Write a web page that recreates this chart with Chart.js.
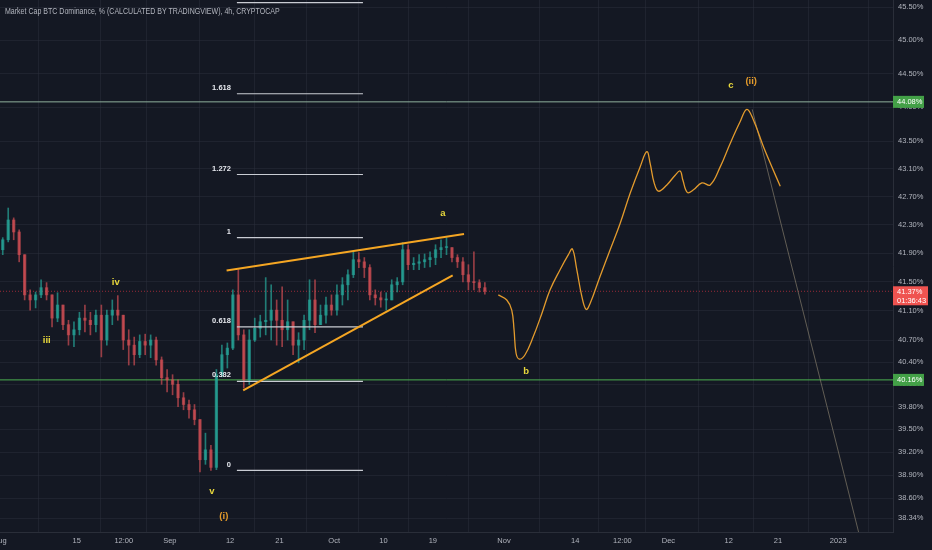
<!DOCTYPE html>
<html>
<head>
<meta charset="utf-8">
<script src="https://cdn.jsdelivr.net/npm/chart.js@4.4.0/dist/chart.umd.min.js"></script>
<style>
    html, body { margin: 0; padding: 0; background: #141823; }
    #wrap { width: 932px; height: 550px; }
</style>
</head>
<body>
<div id="wrap"><canvas id="chart" width="932" height="550"></canvas></div>
<script>
// x values are days counted from 1 Aug 2022
const xTickDays = [0, 14, 22.6, 31, 42, 51, 61, 70, 79, 92, 105, 113.6, 122, 133, 142, 153];
const xTickLabels = ['Aug', '15', '12:00', 'Sep', '12', '21', 'Oct', '10', '19', 'Nov', '14', '12:00', 'Dec', '12', '21', '2023'];
const yTicks = [45.5, 45.0, 44.5, 44.0, 43.5, 43.1, 42.7, 42.3, 41.9, 41.5, 41.1, 40.7, 40.4, 40.1, 39.8, 39.5, 39.2, 38.9, 38.6, 38.34];

// daily candles, 1 Aug -> 28 Oct
const firstDay = 0;
const opens = [
    41.95, 42.09, 42.37, 42.20, 41.88, 41.32, 41.25, 41.32, 41.42, 41.32,
    41.00, 41.18, 40.91, 40.77, 40.84, 41.00, 40.97, 40.91, 41.04, 40.70,
    41.04, 41.11, 41.04, 40.70, 40.63, 40.50, 40.68, 40.63, 40.70, 40.43,
    40.19, 40.16, 40.10, 39.92, 39.83, 39.76, 39.63, 39.10, 39.23, 39.00,
    40.23, 40.50, 40.59, 41.32, 40.77, 40.16, 40.70, 40.86, 40.95, 40.97,
    41.11, 40.97, 40.84, 40.95, 40.63, 40.70, 40.97, 41.25, 40.91, 41.04,
    41.18, 41.11, 41.32, 41.46, 41.60, 41.81, 41.78, 41.70, 41.32, 41.28,
    41.25, 41.25, 41.46, 41.50, 41.95, 41.74, 41.76, 41.78, 41.81, 41.84,
    41.95, 41.98, 41.98, 41.84, 41.78, 41.60, 41.50, 41.49, 41.42
];
const highs = [
    42.12, 42.54, 42.40, 42.23, 41.88, 41.39, 41.36, 41.53, 41.49, 41.32,
    41.35, 41.18, 40.97, 40.95, 41.08, 41.18, 41.08, 41.11, 41.18, 41.11,
    41.25, 41.31, 41.04, 40.84, 40.74, 40.77, 40.78, 40.77, 40.74, 40.47,
    40.30, 40.23, 40.16, 39.99, 39.89, 39.83, 39.63, 39.45, 39.29, 40.30,
    40.63, 40.66, 41.39, 41.67, 40.84, 40.84, 41.00, 41.04, 41.56, 41.46,
    41.25, 41.43, 41.25, 40.95, 40.80, 41.04, 41.53, 41.53, 41.18, 41.29,
    41.32, 41.46, 41.56, 41.67, 41.92, 41.91, 41.84, 41.74, 41.39, 41.36,
    41.35, 41.53, 41.56, 42.05, 42.02, 41.84, 41.88, 41.89, 41.92, 42.02,
    42.09, 42.12, 41.98, 41.88, 41.84, 41.74, 41.92, 41.53, 41.49
];
const lows = [
    41.88, 42.06, 42.09, 41.78, 41.25, 41.11, 41.14, 41.28, 41.25, 40.88,
    40.95, 40.84, 40.63, 40.61, 40.77, 40.81, 40.77, 40.81, 40.47, 40.63,
    40.91, 40.97, 40.57, 40.36, 40.36, 40.46, 40.50, 40.46, 40.36, 40.10,
    40.00, 39.96, 39.80, 39.76, 39.65, 39.56, 38.94, 39.04, 38.96, 38.97,
    40.20, 40.32, 40.57, 40.70, 40.05, 40.10, 40.68, 40.74, 40.77, 40.70,
    40.63, 40.61, 40.70, 40.50, 40.39, 40.57, 40.84, 40.80, 40.91, 40.93,
    41.04, 41.04, 41.18, 41.25, 41.56, 41.70, 41.56, 41.25, 41.18, 41.15,
    41.11, 41.25, 41.36, 41.46, 41.67, 41.67, 41.67, 41.70, 41.71, 41.74,
    41.84, 41.88, 41.78, 41.70, 41.50, 41.39, 41.39, 41.36, 41.33
];
const closes = [
    42.09, 42.37, 42.20, 41.88, 41.32, 41.25, 41.32, 41.42, 41.32, 41.00,
    41.18, 40.91, 40.77, 40.84, 41.00, 40.97, 40.91, 41.04, 40.70, 41.04,
    41.11, 41.04, 40.70, 40.63, 40.50, 40.68, 40.63, 40.70, 40.43, 40.19,
    40.16, 40.10, 39.92, 39.83, 39.76, 39.63, 39.10, 39.23, 39.00, 40.23,
    40.50, 40.59, 41.32, 40.77, 40.16, 40.70, 40.86, 40.95, 40.97, 41.11,
    40.97, 40.84, 40.95, 40.63, 40.70, 40.97, 41.25, 40.91, 41.04, 41.18,
    41.11, 41.32, 41.46, 41.60, 41.81, 41.78, 41.70, 41.32, 41.28, 41.25,
    41.25, 41.46, 41.50, 41.95, 41.74, 41.76, 41.78, 41.81, 41.84, 41.95,
    41.98, 41.98, 41.84, 41.78, 41.60, 41.50, 41.49, 41.42, 41.37
];

// projected path (orange curve)
const projDays = [90.96, 92.50, 93.41, 93.83, 94.20, 94.80, 95.84, 97.36, 98.89, 100.41,
    102.23, 103.75, 104.48, 105.28, 106.20, 106.98, 107.71, 109.54, 111.37, 113.19,
    115.02, 116.84, 118.07, 118.67, 119.40, 120.19, 121.72, 123.24, 124.15, 124.64,
    125.48, 126.58, 128.11, 129.63, 131.46, 133.28, 135.11, 136.33, 137.54, 139.37,
    140.90, 142.42];
const projValues = [41.32, 41.25, 41.11, 40.84, 40.52, 40.44, 40.50, 40.75, 41.06, 41.39,
    41.67, 41.88, 41.96, 41.67, 41.30, 41.12, 41.20, 41.58, 41.95, 42.32,
    42.75, 43.13, 43.35, 43.18, 42.90, 42.78, 42.87, 43.01, 43.07, 42.94,
    42.76, 42.80, 42.90, 42.87, 43.13, 43.47, 43.79, 43.97, 43.81, 43.42,
    43.13, 42.85];

// rising wedge trendlines
const wedgeUpperDays = [41.36, 84.70];
const wedgeUpperValues = [41.66, 42.17];
const wedgeLowerDays = [44.39, 82.63];
const wedgeLowerValues = [40.02, 41.59];

// thin line down from the (ii) top
const targetDays = [137.3, 158.0];
const targetValues = [43.97, 37.81];

// fib retracement
const fibLabels = ['0', '0.382', '0.618', '1', '1.272', '1.618', '2'];
const fibValues = [38.96, 40.14, 40.88, 42.12, 43.02, 44.20, 45.57];
const fibStart = 43.24;
const fibEnd = 66.25;

// horizontal levels
const levelValues = [44.08, 40.16];
const lastPrice = 41.37;
const countdown = '01:36:43';

// Elliott wave labels
const waveText = ['iii', 'iv', 'v', '(i)', 'a', 'b', 'c', '(ii)'];
const waveDays = [8.53, 21.14, 38.67, 40.86, 80.86, 96.02, 133.41, 137.12];
const waveValues = [40.69, 41.49, 38.69, 38.37, 42.47, 40.28, 44.32, 44.38];

const TITLE = 'Market Cap BTC Dominance, % (CALCULATED BY TRADINGVIEW), 4h, CRYPTOCAP';

const UP = 'rgba(38,166,154,0.7)';
const DOWN = 'rgba(214,80,86,0.68)';
const GRID = 'rgba(48,52,64,0.4)';
const AXIS_TEXT = '#b2b5be';
const FONT = "'Liberation Sans', Arial, sans-serif";
const YELLOW = '#e8d83c';
const ORANGE = '#e39a2b';

const candleX = closes.map((c, i) => firstDay + i + 0.5);
const candleColor = ctx => closes[ctx.dataIndex] >= opens[ctx.dataIndex] ? UP : DOWN;

const seg = (xs, ys) => xs.map((x, i) => ({ x, y: ys[i] }));
const lineDs = (data, color, width, extra) => Object.assign({
    type: 'line', data, borderColor: color, borderWidth: width,
    pointRadius: 0, fill: false, tension: 0, order: 1
}, extra || {});

const datasets = [
    {
        type: 'bar', label: 'wick',
        data: candleX.map((x, i) => ({ x, y: [lows[i], highs[i]] })),
        backgroundColor: candleColor, barThickness: 1, grouped: false, order: 5
    },
    {
        type: 'bar', label: 'body',
        data: candleX.map((x, i) => ({ x, y: [opens[i], closes[i]] })),
        backgroundColor: candleColor, barThickness: 2.6, minBarLength: 1, grouped: false, order: 4
    },
    lineDs(seg([0, 163], [lastPrice, lastPrice]), 'rgba(242,54,69,0.6)', 1, { borderDash: [1, 2], order: 9 }),
    lineDs(seg([0, 163], [levelValues[0], levelValues[0]]), '#8fb09c', 1, { order: 9 }),
    lineDs(seg([0, 163], [levelValues[1], levelValues[1]]), '#4caf50', 1, { order: 9 }),
    lineDs(seg(wedgeUpperDays, wedgeUpperValues), '#f5a623', 2),
    lineDs(seg(wedgeLowerDays, wedgeLowerValues), '#f5a623', 2),
    lineDs(seg(projDays, projValues), '#e39b2d', 1.3, { tension: 0.4 }),
    lineDs(seg(targetDays, targetValues), 'rgba(150,140,118,0.6)', 1)
];
fibValues.forEach(v => {
    datasets.push(lineDs(seg([fibStart, fibEnd], [v, v]), '#c9ccd3', 1.2, { order: 3 }));
});

const overlay = {
    id: 'overlay',
    afterDatasetsDraw(chart) {
        const { ctx, scales: { x, y } } = chart;
        ctx.save();
        // fib labels
        ctx.font = 'bold 7.5px ' + FONT;
        ctx.fillStyle = '#e6e8ee';
        ctx.textAlign = 'right';
        ctx.textBaseline = 'middle';
        fibLabels.forEach((t, i) => {
            ctx.fillText(t, x.getPixelForValue(fibStart) - 6, y.getPixelForValue(fibValues[i]) - 6);
        });
        // wave labels
        ctx.font = 'bold 9.5px ' + FONT;
        ctx.textAlign = 'center';
        waveText.forEach((t, i) => {
            ctx.fillStyle = t.startsWith('(') ? ORANGE : YELLOW;
            ctx.fillText(t, x.getPixelForValue(waveDays[i]), y.getPixelForValue(waveValues[i]));
        });
        ctx.restore();
    },
    afterDraw(chart) {
        const { ctx, chartArea, scales: { y } } = chart;
        ctx.save();
        // title, squeezed to match the screenshot width
        ctx.font = '9.5px ' + FONT;
        ctx.fillStyle = AXIS_TEXT;
        ctx.textAlign = 'left';
        ctx.textBaseline = 'middle';
        ctx.save();
        ctx.translate(5, 11);
        ctx.scale(0.74, 1);
        ctx.fillText(TITLE, 0, 0);
        ctx.restore();

        const left = chartArea.right;
        ctx.font = '7.5px ' + FONT;
        levelValues.forEach(v => {
            const py = y.getPixelForValue(v);
            ctx.fillStyle = '#43a047';
            ctx.fillRect(left, py - 6, 31, 12);
            ctx.fillStyle = '#ffffff';
            ctx.fillText(v.toFixed(2) + '%', left + 4, py);
        });
        const py = y.getPixelForValue(lastPrice);
        ctx.fillStyle = '#ef5350';
        ctx.fillRect(left, py - 5, 35, 19);
        ctx.fillStyle = '#ffffff';
        ctx.fillText(lastPrice.toFixed(2) + '%', left + 4, py + 1);
        ctx.fillText(countdown, left + 4, py + 10);
        ctx.restore();
    }
};

new Chart(document.getElementById('chart'), {
    type: 'bar',
    data: { datasets },
    options: {
        responsive: false,
        animation: false,
        layout: { padding: 0 },
        plugins: { legend: { display: false }, tooltip: { enabled: false } },
        scales: {
            x: {
                type: 'linear', min: 0, max: 163, offset: false,
                afterBuildTicks: s => { s.ticks = xTickDays.map(v => ({ value: v })); },
                afterFit: s => { s.height = 18; s.paddingLeft = 0; s.paddingRight = 0; },
                ticks: {
                    autoSkip: false, maxRotation: 0, padding: 4,
                    color: AXIS_TEXT, font: { family: FONT, size: 7.5 },
                    callback: (v, i) => xTickLabels[i]
                },
                grid: { color: GRID, drawTicks: false },
                border: { color: '#2a2e39' }
            },
            y: {
                type: 'logarithmic', position: 'right', min: 38.165, max: 45.61,
                afterBuildTicks: s => { s.ticks = yTicks.map(v => ({ value: v })); },
                afterFit: s => { s.width = 39; s.paddingTop = 0; s.paddingBottom = 0; },
                ticks: {
                    padding: 5, color: AXIS_TEXT, font: { family: FONT, size: 7.5 },
                    callback: v => Number(v).toFixed(2) + '%'
                },
                grid: { color: GRID, drawTicks: false },
                border: { color: '#2a2e39' }
            }
        }
    },
    plugins: [overlay]
});
</script>
</body>
</html>
